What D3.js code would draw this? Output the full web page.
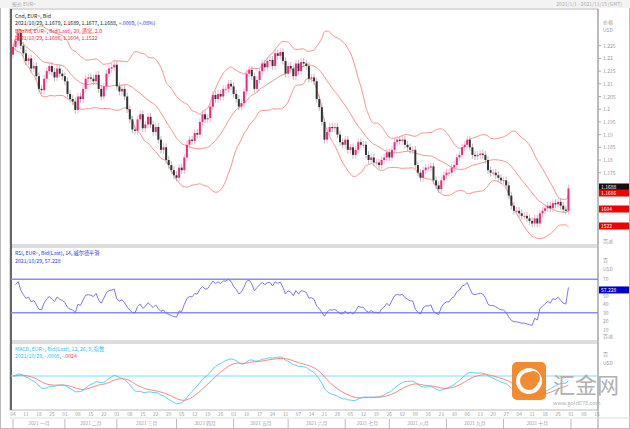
<!DOCTYPE html>
<html><head><meta charset="utf-8">
<script src="https://cdn.jsdelivr.net/npm/d3@7"></script>
<style>body{margin:0;background:#fff}text{font-family:"Noto Sans CJK SC","DejaVu Sans",sans-serif}</style>
</head><body><svg width="630" height="429"></svg>
<script>
// daily closes, Jan 4 - Oct 29 2021
const closes = [
1.2245,1.2270,1.2300,1.2250,1.2220,1.2190,1.2200,1.2160,1.2170,1.2130,
1.2080,1.2075,1.2120,1.2150,1.2170,1.2147,1.2125,1.2160,1.2140,1.2130,
1.2110,1.2060,1.2040,1.2030,1.1997,1.2050,1.2040,1.2080,1.2120,1.2125,
1.2120,1.2110,1.2135,1.2080,1.2050,1.2090,1.2140,1.2160,1.2165,1.2175,
1.2090,1.2070,1.2080,1.2050,1.2000,1.1960,1.1920,1.1915,1.1960,1.1980,
1.1925,1.1940,1.1970,1.1940,1.1910,1.1930,1.1880,1.1840,1.1850,1.1800,
1.1780,1.1760,1.1740,1.1730,1.1770,1.1760,1.1810,1.1860,1.1880,1.1875,
1.1906,1.1900,1.1950,1.1980,1.1960,1.1965,1.2010,1.2056,1.2040,1.2060,
1.2050,1.2080,1.2080,1.2100,1.2090,1.2060,1.2040,1.2010,1.2024,1.2070,
1.2140,1.2155,1.2130,1.2080,1.2115,1.2150,1.2180,1.2165,1.2190,1.2194,
1.2170,1.2220,1.2210,1.2225,1.2190,1.2140,1.2170,1.2160,1.2130,1.2180,
1.2150,1.2186,1.2180,1.2170,1.2120,1.2125,1.2110,1.2040,1.2008,1.1950,
1.1880,1.1910,1.1930,1.1925,1.1930,1.1900,1.1870,1.1860,1.1880,1.1840,
1.1850,1.1820,1.1840,1.1870,1.1860,1.1860,1.1820,1.1800,1.1810,1.1790,
1.1790,1.1780,1.1800,1.1810,1.1830,1.1810,1.1840,1.1870,1.1880,1.1875,
1.1880,1.1860,1.1850,1.1840,1.1840,1.1780,1.1750,1.1730,1.1760,1.1770,
1.1770,1.1775,1.1720,1.1700,1.1685,1.1720,1.1740,1.1750,1.1750,1.1770,
1.1780,1.1810,1.1820,1.1850,1.1860,1.1880,1.1850,1.1820,1.1815,1.1820,
1.1825,1.1820,1.1800,1.1760,1.1750,1.1750,1.1740,1.1730,1.1720,1.1720,
1.1700,1.1660,1.1620,1.1600,1.1600,1.1590,1.1580,1.1580,1.1570,1.1560,
1.1550,1.1570,1.1550,1.1590,1.1600,1.1610,1.1620,1.1610,1.1630,1.1625,
1.1635,1.1620,1.1605,1.1600,1.1688];
const firstOpen = 1.2215;
const priceTicks = [1.175,1.18,1.185,1.19,1.195,1.2,1.205,1.21,1.215,1.22,1.225];
const rsiTicks = [10,20,30,40,50,70];
const dayLabels = ["04","11","18","25","01","08","15","22","01","08","15","22","29","05","12","19","26","03","10","17","24","31","07","14","21","28","05","12","19","26","02","09","16","23","30","06","13","20","27","04","11","18","25","01","08","15"];
const months = ["2021 一月","2021 二月","2021 三月","2021 四月","2021 五月","2021 六月","2021 七月","2021 八月","2021 九月","2021 十月"];
const monthStarts = [0,20,40,63,85,106,128,145,167,189,215];

const svg = d3.select("svg");
const x = d3.scaleLinear().domain([0,225]).range([13,597]);
const y = d3.scaleLinear().domain([1.15,1.225]).range([236.2,45.7]);
const yR = d3.scaleLinear().domain([0,100]).range([338,254]);

// indicators
const n = closes.length;
const bb = closes.map((c,i) => {
  const w = closes.slice(Math.max(0,i-19), i+1);
  const m = d3.mean(w), sd = Math.sqrt(d3.mean(w, v => (v-m)*(v-m)));
  return {i, m, up: m+2*sd, lo: m-2*sd};
});
// Wilder RSI, seeded with a neutral-ish average so the start is not pinned at 100
let ag=0.0012, al=0.0008; const rsi=[];
for (let i=1;i<n;i++){
  const ch = closes[i]-closes[i-1];
  ag=(ag*13+Math.max(ch,0))/14; al=(al*13+Math.max(-ch,0))/14;
  rsi.push({i, v: 100-100/(1+ag/al)});
}
function ema(arr,p){ const k=2/(p+1); let e=arr[0]; return arr.map(v => (e = v*k + e*(1-k))); }
const e12=ema(closes,12), e26=ema(closes,26);
const macd = closes.map((c,i)=>e12[i]-e26[i]);
const sig = ema(macd,9);
const mMax = d3.max(macd.slice(10)), mMin = d3.min(macd.slice(10));
const kM = Math.min(19/mMax, 29/-mMin);
const yM = v => 376 - v*kM;

// frames
svg.append("rect").attr("x",0.5).attr("y",0.5).attr("width",629).attr("height",428).attr("fill","none").attr("stroke","#bbb");
svg.append("rect").attr("x",0).attr("y",0).attr("width",630).attr("height",8).attr("fill","#f3f3f3");
svg.append("text").attr("x",12).attr("y",6).attr("font-size",5).attr("fill","#aaa").text("报价 EUR=");
svg.append("text").attr("x",622).attr("y",6).attr("font-size",5).attr("fill","#aaa").attr("text-anchor","end").text("2021/1/1 - 2021/11/15 (GMT)");
[[9,245],[247,341],[343,410]].forEach(([a,b]) => {
  svg.append("rect").attr("x",10).attr("y",a).attr("width",588).attr("height",b-a).attr("fill","none").attr("stroke","#bbb");
});
svg.append("line").attr("x1",11).attr("x2",11).attr("y1",9).attr("y2",410).attr("stroke","#666").attr("stroke-width",2);
svg.append("line").attr("x1",598).attr("x2",598).attr("y1",9).attr("y2",428).attr("stroke","#999");

const main = svg.append("g");
// bands
svg.append("clipPath").attr("id","cm").append("rect").attr("x",11).attr("y",9).attr("width",587).attr("height",236);
const bg = main.append("g").attr("clip-path","url(#cm)");
["up","m","lo"].forEach(k => {
  bg.append("path").datum(bb).attr("fill","none").attr("stroke","#f08a80").attr("stroke-width",0.9)
    .attr("d", d3.line().x(d=>x(d.i)).y(d=>y(d[k])).curve(d3.curveMonotoneX));
});
// candles
const cand = closes.map((c,i) => ({i, o: i===0?firstOpen:closes[i-1], c}));
const cg = bg.selectAll(".c").data(cand).enter().append("g");
cg.append("line").attr("x1",d=>x(d.i)).attr("x2",d=>x(d.i))
  .attr("y1",d=>y(Math.max(d.o,d.c)+0.0015)).attr("y2",d=>y(Math.min(d.o,d.c)-0.0015))
  .attr("stroke",d=>d.c>=d.o?"#f7a3c8":"#aaa").attr("stroke-width",0.8);
cg.append("rect").attr("x",d=>x(d.i)-1).attr("width",2)
  .attr("y",d=>y(Math.max(d.o,d.c))).attr("height",d=>Math.max(0.8,Math.abs(y(d.o)-y(d.c))))
  .attr("fill",d=>d.c>=d.o?"#f0287e":"#333");

// price axis
const ax = svg.append("g").attr("font-size",5).attr("fill","#999");
priceTicks.forEach(t => {
  ax.append("line").attr("x1",598).attr("x2",601).attr("y1",y(t)).attr("y2",y(t)).attr("stroke","#aaa");
  ax.append("text").attr("x",603).attr("y",y(t)+2).text(t);
});
ax.append("text").attr("x",603).attr("y",24).text("价格");
ax.append("text").attr("x",603).attr("y",32).text("USD");
ax.append("text").attr("x",603).attr("y",243).text("百派");
[["#111","1.1688",187],["#e00","1.1686",193],["#e00","1604",209],["#e00","1522",226]].forEach(([c,t,yy])=>{
  svg.append("rect").attr("x",599).attr("y",yy-3.5).attr("width",30).attr("height",7).attr("fill",c);
  svg.append("text").attr("x",601).attr("y",yy+2).attr("font-size",5).attr("fill","#fff").text(t);
});

// legends
const lg = svg.append("g").attr("font-size",5.2);
lg.append("text").attr("x",15).attr("y",18).attr("fill","#222").text("Cnd, EUR=, Bid");
const t2 = lg.append("text").attr("x",15).attr("y",25).attr("fill","#222");
t2.append("tspan").text("2021/10/29, 1.1679, 1.1689, 1.1677, 1.1688, ");
t2.append("tspan").attr("fill","#33f").text("+.0009, (+.08%)");
lg.append("text").attr("x",15).attr("y",33).attr("fill","#f03030").text("BBand, EUR=, Bid(Last), 20, 通常, 2.0");
lg.append("text").attr("x",15).attr("y",40).attr("fill","#f03030").text("2021/10/29, 1.1686, 1.1604, 1.1522");

// RSI
[70,30].forEach(v => svg.append("line").attr("x1",11).attr("x2",598).attr("y1",yR(v)).attr("y2",yR(v)).attr("stroke","#8c8cf5").attr("stroke-width",1.6));
svg.append("path").datum(rsi).attr("fill","none").attr("stroke","#6b6be8").attr("stroke-width",0.9)
  .attr("d", d3.line().x(d=>x(d.i)).y(d=>yR(d.v)));
rsiTicks.forEach(t => ax.append("text").attr("x",603).attr("y",yR(t)+2).text(t));
ax.append("text").attr("x",603).attr("y",262).text("百");
ax.append("text").attr("x",603).attr("y",271).text("USD");
ax.append("text").attr("x",603).attr("y",338).text("百派");
svg.append("rect").attr("x",599).attr("y",yR(57.2)-3.5).attr("width",30).attr("height",7).attr("fill","#0000cc");
svg.append("text").attr("x",601).attr("y",yR(57.2)+2).attr("font-size",5).attr("fill","#fff").text("57.228");
lg.append("text").attr("x",15).attr("y",255).attr("fill","#33f").text("RSI, EUR=, Bid(Last), 14, 威尔德平滑");
lg.append("text").attr("x",15).attr("y",263).attr("fill","#33f").text("2021/10/29, 57.228");

// MACD
svg.append("line").attr("x1",11).attr("x2",598).attr("y1",376).attr("y2",376).attr("stroke","#7fdcff").attr("stroke-width",1.2);
const mi = d3.range(n);
svg.append("path").datum(mi).attr("fill","none").attr("stroke","#4cc8f5").attr("stroke-width",0.9)
  .attr("d", d3.line().x(i=>x(i)).y(i=>yM(macd[i])));
svg.append("path").datum(mi).attr("fill","none").attr("stroke","#f07c78").attr("stroke-width",0.9)
  .attr("d", d3.line().x(i=>x(i)).y(i=>yM(sig[i])));
ax.append("text").attr("x",603).attr("y",356).text("百");
ax.append("text").attr("x",603).attr("y",365).text("USD");
lg.append("text").attr("x",15).attr("y",351).attr("fill","#33bbee").text("MACD, EUR=, Bid(Last), 12, 26, 9, 指数");
const t3 = lg.append("text").attr("x",15).attr("y",358).attr("fill","#33bbee");
t3.append("tspan").text("2021/10/29, -.0008, ");
t3.append("tspan").attr("fill","#f05050").text("-.0024");

// x axis
const xa = svg.append("g").attr("font-size",4.8).attr("fill","#999");
dayLabels.forEach((t,k) => xa.append("text").attr("x",x(k*5)).attr("y",416).attr("text-anchor","middle").text(t));
months.forEach((m,k) => {
  xa.append("text").attr("x",(x(monthStarts[k])+x(monthStarts[k+1]))/2).attr("y",425).attr("text-anchor","middle").text(m);
  svg.append("line").attr("x1",x(monthStarts[k])).attr("x2",x(monthStarts[k])).attr("y1",419).attr("y2",428).attr("stroke","#bbb");
});
svg.append("line").attr("x1",x(215)).attr("x2",x(215)).attr("y1",419).attr("y2",428).attr("stroke","#bbb");
svg.append("line").attr("x1",10).attr("x2",630).attr("y1",418).attr("y2",418).attr("stroke","#ddd");

// watermark
const wm = svg.append("g").attr("opacity",0.92);
wm.append("rect").attr("x",512).attr("y",362).attr("width",34).attr("height",38).attr("rx",5).attr("fill","#f5821f");
wm.append("circle").attr("cx",529).attr("cy",381).attr("r",11).attr("fill","none").attr("stroke","#fff").attr("stroke-width",4);
wm.append("circle").attr("cx",533).attr("cy",378).attr("r",7).attr("fill","#f5821f");
wm.append("text").attr("x",553).attr("y",393).attr("font-size",22).attr("fill","#aaa").text("汇金网");
wm.append("text").attr("x",553).attr("y",405).attr("font-size",5.5).attr("fill","#aaa").text("www.gold678.com");
</script></body></html>
